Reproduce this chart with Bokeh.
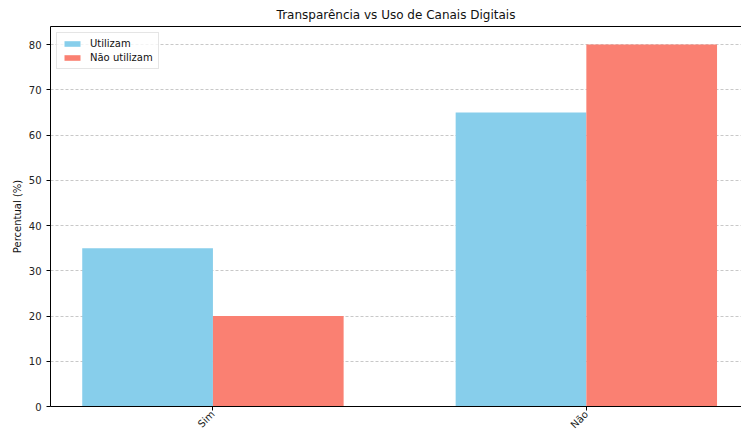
import math
from bokeh.plotting import figure
from bokeh.models import ColumnDataSource, LinearAxis, FixedTicker, Range1d, Legend, LegendItem
from bokeh.transform import dodge
from bokeh.embed import file_html
from bokeh.resources import INLINE

categories = ["Sim", "Não"]
utilizam = [35, 65]
nao_utilizam = [20, 80]
y_ticks = [0, 10, 20, 30, 40, 50, 60, 70, 80]

src = ColumnDataSource(dict(x=list(range(len(categories))), cat=categories,
                            u=utilizam, n=nao_utilizam))

p = figure(width=741, height=437, output_backend="svg", toolbar_location=None,
           x_range=Range1d(-0.435, 1.4155), y_range=Range1d(0, 84),
           min_border_left=50, min_border_right=0, min_border_top=26, min_border_bottom=28)

p.title.text = "Transparência vs Uso de Canais Digitais"
p.title.align = "center"
p.title.text_font = "DejaVu Sans"
p.title.text_font_style = "normal"
p.title.text_font_size = "12px"
p.title.text_color = "#111111"

r1 = p.vbar(x=dodge("x", -0.175), top="u", width=0.35, source=src, color="#87CEEB", line_color=None)
r2 = p.vbar(x=dodge("x", 0.175), top="n", width=0.35, source=src, color="#FA8072", line_color=None)

legend = Legend(items=[LegendItem(label="Utilizam", renderers=[r1]),
                       LegendItem(label="Não utilizam", renderers=[r2])],
                location="top_left")
legend.label_text_font = "DejaVu Sans"
legend.label_text_font_size = "10px"
legend.label_text_color = "#111111"
legend.glyph_width = 20
legend.glyph_height = 7
legend.label_height = 10
legend.label_standoff = 8
legend.spacing = 3
legend.padding = 5
legend.margin = 6
legend.border_line_color = "#cccccc"
legend.background_fill_alpha = 0.8
p.add_layout(legend)

p.outline_line_color = None
p.xgrid.grid_line_color = None
p.ygrid.grid_line_color = "#b0b0b0"
p.ygrid.grid_line_dash = "3 2"
p.ygrid.grid_line_alpha = 0.7
p.ygrid.ticker = FixedTicker(ticks=y_ticks)

p.yaxis.ticker = FixedTicker(ticks=y_ticks)
p.yaxis.axis_label = "Percentual (%)"
p.yaxis.axis_label_text_font = "DejaVu Sans"
p.yaxis.axis_label_text_font_style = "normal"
p.yaxis.axis_label_text_font_size = "10px"
p.yaxis.axis_label_text_color = "#111111"
p.yaxis.axis_label_standoff = 3
p.yaxis.major_label_text_font = "DejaVu Sans"
p.yaxis.major_label_text_font_size = "10px"
p.yaxis.major_label_text_color = "#222222"
p.yaxis.minor_tick_line_color = None
p.yaxis.major_tick_in = 0
p.yaxis.major_tick_out = 4

p.xaxis.ticker = FixedTicker(ticks=list(range(len(categories))))
p.xaxis.major_label_overrides = {i: c for i, c in enumerate(categories)}
p.xaxis.major_label_orientation = math.pi / 4
p.xaxis.major_label_text_font = "DejaVu Sans"
p.xaxis.major_label_text_font_size = "10px"
p.xaxis.major_label_text_color = "#222222"
p.xaxis.major_label_standoff = 2
p.xaxis.minor_tick_line_color = None
p.xaxis.major_tick_in = 0
p.xaxis.major_tick_out = 4

top_axis = LinearAxis(ticker=FixedTicker(ticks=[]), major_label_text_font_size="0px",
                      major_tick_line_color=None, minor_tick_line_color=None,
                      axis_line_color="black")
p.add_layout(top_axis, "above")

for ax in (p.xaxis[0], p.yaxis[0]):
    ax.axis_line_color = "black"

open("out.html", "w").write(file_html(p, INLINE))
